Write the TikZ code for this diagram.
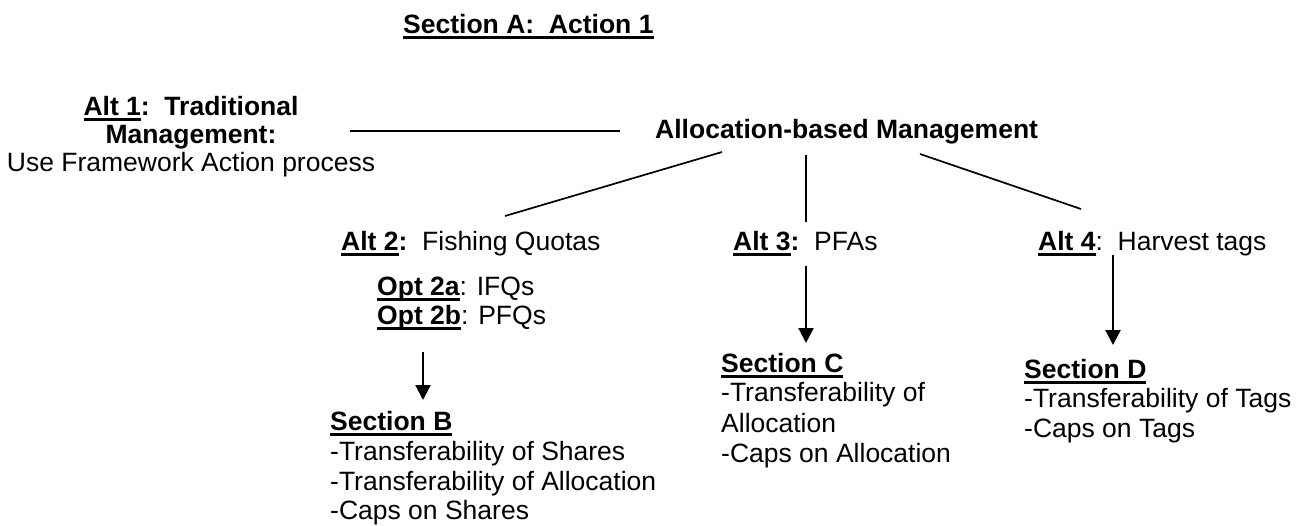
\documentclass[tikz,border=0pt]{standalone}
\usepackage{fontspec}
\setmainfont{Liberation Sans}
\usetikzlibrary{arrows.meta}
\newcommand\uln[1]{\setbox0\hbox{#1}\rlap{\rule[-6.3pt]{\wd0}{3.1pt}}\box0}
\begin{document}
\begin{tikzpicture}[x=1pt,y=-1pt,
  txt/.style={anchor=base west,inner sep=0pt,font=\fontsize{26.5}{30}\selectfont},
  ctxt/.style={txt,anchor=base},
  conn/.style={line width=1.7pt},
  arr/.style={line width=2.2pt,-{Triangle[width=15pt,length=15pt]}}]
\useasboundingbox (0,0) rectangle (1309,525);
% title
\node[txt] (secA) at (403,33) {\bfseries\uln{Section A:\ \ Action 1}};
% Alt 1
\node[ctxt] (alt1a) at (191,115) {\bfseries\uln{Alt 1}:\ \ Traditional};
\node[ctxt] (alt1b) at (191,143) {\bfseries Management:};
\node[ctxt] (alt1c) at (191,171) {Use Framework Action process};
% Allocation
\node[txt] (alloc) at (655,138) {\bfseries Allocation-based Management};
% Alts
\node[txt] (alt2) at (341,250) {\textbf{\uln{Alt 2}:}\ \ Fishing Quotas};
\node[txt] (alt3) at (733,250) {\textbf{\uln{Alt 3}:}\ \ PFAs};
\node[txt] (alt4) at (1038,250) {\textbf{\uln{Alt 4}}:\ \ Harvest tags};
\node[txt] (opt2a) at (377,295) {\textbf{\uln{Opt 2a}}: IFQs};
\node[txt] (opt2b) at (377,324) {\textbf{\uln{Opt 2b}}: PFQs};
% Section B
\node[txt] (secB) at (330,430) {\bfseries\uln{Section B}};
\node[txt] (b1) at (330,460) {-Transferability of Shares};
\node[txt] (b2) at (330,490) {-Transferability of Allocation};
\node[txt] (b3) at (330,519) {-Caps on Shares};
% Section C
\node[txt] (secC) at (721,372) {\bfseries\uln{Section C}};
\node[txt] (c1) at (721,401) {-Transferability of};
\node[txt] (c2) at (721,432) {Allocation};
\node[txt] (c3) at (721,462) {-Caps on Allocation};
% Section D
\node[txt] (secD) at (1024,378) {\bfseries\uln{Section D}};
\node[txt] (d1) at (1024,407) {-Transferability of Tags};
\node[txt] (d2) at (1024,437) {-Caps on Tags};
% connector ends
\coordinate (l1s) at (350,131);
\coordinate (l1e) at (620,131);
\coordinate (l2s) at (722,152);
\coordinate (l2e) at (505,216);
\coordinate (l3s) at (806,155);
\coordinate (l3e) at (806,222);
\coordinate (l4s) at (920,154);
\coordinate (l4e) at (1081,209);
\coordinate (aBs) at (423,352);
\coordinate (aBe) at (423,400);
\coordinate (aCs) at (806,266);
\coordinate (aCe) at (806,343);
\coordinate (aDs) at (1113,255);
\coordinate (aDe) at (1113,345);
\draw[conn] (l1s) -- (l1e);
\draw[conn] (l2s) -- (l2e);
\draw[conn] (l3s) -- (l3e);
\draw[conn] (l4s) -- (l4e);
\draw[arr] (aBs) -- (aBe);
\draw[arr] (aCs) -- (aCe);
\draw[arr] (aDs) -- (aDe);
\end{tikzpicture}
\end{document}
